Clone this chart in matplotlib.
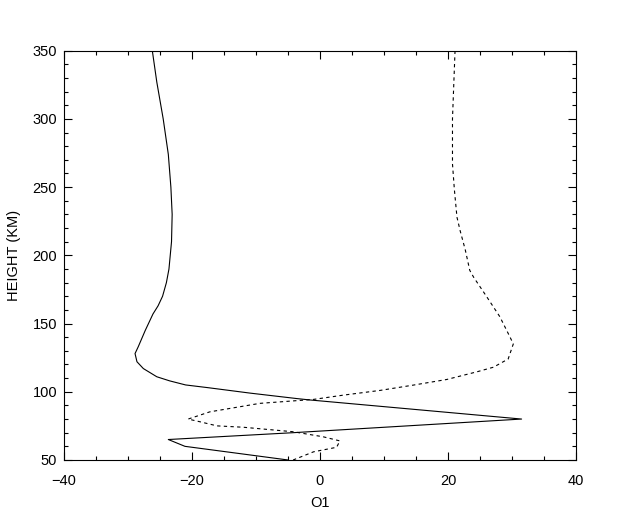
import matplotlib
matplotlib.use("Agg")
import matplotlib.pyplot as plt
from matplotlib.ticker import MultipleLocator

plt.rcParams["font.family"] = ["Liberation Sans", "DejaVu Sans"]

# solid profile: height (km) and O1 value
solid_h = [350, 327, 300, 274, 250, 230, 210, 190, 180, 170, 163, 157, 145, 133,
           128, 122, 117, 111, 108, 105, 103, 99, 95, 94, 80, 70, 65, 60, 50]
solid_v = [-26.2, -25.5, -24.5, -23.7, -23.3, -23.1, -23.2, -23.6, -24.0, -24.6,
           -25.3, -26.1, -27.3, -28.4, -28.9, -28.6, -27.6, -25.5, -23.5, -21.0,
           -17.5, -10.9, -3.6, -1.6, 31.5, -4.2, -23.7, -21.1, -5.0]

# dashed profile
dash_h = [350, 325, 300, 267, 248, 228, 218, 204, 189, 184, 170, 155, 140, 135,
          124, 118, 114.6, 109, 104.9, 101, 97.5, 94.4, 91.5, 85.3, 80, 78, 75,
          74, 70.7, 67, 64, 59.3, 56, 50]
dash_v = [21.1, 20.9, 20.7, 20.7, 21.0, 21.4, 21.9, 22.7, 23.4, 24.0, 26.0, 28.1,
          29.7, 30.2, 29.4, 27.1, 24.5, 19.8, 14.6, 9.4, 3.6, -1.0, -9.4, -17.2,
          -20.6, -18.75, -16.1, -12.0, -4.2, 0.5, 3.1, 2.6, -1.0, -4.2]

fig = plt.figure(figsize=(6.4, 5.12), dpi=100)
ax = fig.add_axes([0.1, 0.1016, 0.8, 0.7994])

ax.plot(solid_v, solid_h, color="black", lw=0.8)
ax.plot(dash_v, dash_h, color="black", lw=0.8, linestyle=(0, (3, 3)))

ax.set_xlim(-40, 40)
ax.set_ylim(50, 350)
ax.xaxis.set_major_locator(MultipleLocator(20))
ax.xaxis.set_minor_locator(MultipleLocator(5))
ax.yaxis.set_major_locator(MultipleLocator(50))
ax.yaxis.set_minor_locator(MultipleLocator(10))

ax.tick_params(which="both", direction="in", top=True, right=True,
               colors="black", width=0.8, labelsize=10.5)
ax.tick_params(which="major", length=6)
ax.tick_params(which="minor", length=3.2)
ax.tick_params(axis="x", pad=10)
ax.tick_params(axis="y", pad=5)
for s in ax.spines.values():
    s.set_linewidth(0.8)

ax.set_xlabel("O1", fontsize=10.5, labelpad=6)
ax.set_ylabel("HEIGHT (KM)", fontsize=10.5, labelpad=8)

fig.savefig("out.png", dpi=100)
